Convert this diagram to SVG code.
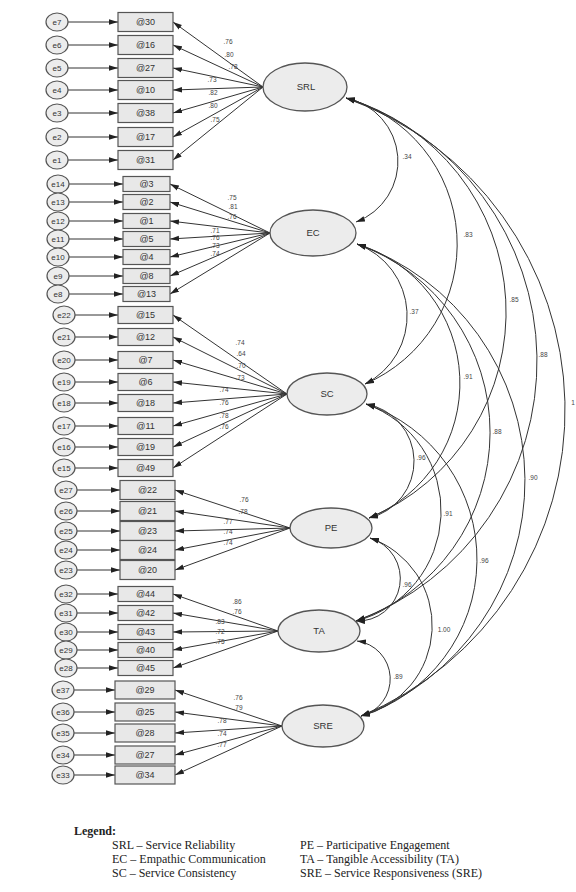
<svg xmlns="http://www.w3.org/2000/svg" width="576" height="892" viewBox="0 0 576 892">
<style>
text{font-family:"Liberation Sans",Arial,sans-serif;fill:#333;text-anchor:middle}
.err ellipse{fill:#ececec;stroke:#555;stroke-width:1.2}
.err text{font-size:8px}
.box rect{fill:#e8e8e8;stroke:#555;stroke-width:1.2}
.box text{font-size:9px}
.lat ellipse{fill:#ececec;stroke:#555;stroke-width:1.3}
.lat text{font-size:9.5px}
.conn path{stroke:#333;stroke-width:1;fill:none;marker-end:url(#ah)}
.conn path.cov{marker-start:url(#ah)}
.lbl text{font-size:6.5px;fill:#444}
.leg text{font-family:"Liberation Serif","Times New Roman",serif;font-size:12px;fill:#222;text-anchor:start}
</style>
<defs>
<marker id="ah" viewBox="0 0 10 6" refX="10" refY="3" markerWidth="9" markerHeight="6" markerUnits="userSpaceOnUse" orient="auto-start-reverse"><path d="M0,0 L10,3 L0,6 z" fill="#222"/></marker>
</defs>
<rect width="576" height="892" fill="#fff"/>

<g id="connectors" class="conn">
<!-- SRL errors & loadings -->
<path d="M68,22 H118"/><path d="M68,45 H118"/><path d="M68,68 H118"/><path d="M68,90 H118"/><path d="M68,113 H118"/><path d="M68,137 H118"/><path d="M68,160 H118"/>
<path d="M263,87 L173,22"/><path d="M263,87 L173,45"/><path d="M263,87 L173,68"/><path d="M263,87 L173,90"/><path d="M263,87 L173,113"/><path d="M263,87 L173,137"/><path d="M263,87 L173,160"/>
<!-- EC -->
<path d="M69,184 H123"/><path d="M69,202 H123"/><path d="M69,221 H123"/><path d="M69,239 H123"/><path d="M69,257 H123"/><path d="M69,276 H123"/><path d="M69,294 H123"/>
<path d="M270,233 L170,184"/><path d="M270,233 L170,202"/><path d="M270,233 L170,221"/><path d="M270,233 L170,239"/><path d="M270,233 L170,257"/><path d="M270,233 L170,276"/><path d="M270,233 L170,294"/>
<!-- SC -->
<path d="M75,315 H118"/><path d="M75,337 H118"/><path d="M75,360 H118"/><path d="M75,382 H118"/><path d="M75,403 H118"/><path d="M75,426 H118"/><path d="M75,447 H118"/><path d="M75,468 H118"/>
<path d="M287,394 L173,315"/><path d="M287,394 L173,337"/><path d="M287,394 L173,360"/><path d="M287,394 L173,382"/><path d="M287,394 L173,403"/><path d="M287,394 L173,426"/><path d="M287,394 L173,447"/><path d="M287,394 L173,468"/>
<!-- PE -->
<path d="M77,490 H120"/><path d="M77,511 H120"/><path d="M77,531 H120"/><path d="M77,550 H120"/><path d="M77,570 H120"/>
<path d="M290,528 L175,490"/><path d="M290,528 L175,511"/><path d="M290,528 L175,531"/><path d="M290,528 L175,550"/><path d="M290,528 L175,570"/>
<!-- TA -->
<path d="M77,594 H118"/><path d="M77,613 H118"/><path d="M77,632 H118"/><path d="M77,650 H118"/><path d="M77,668 H118"/>
<path d="M278,631 L173,594"/><path d="M278,631 L173,613"/><path d="M278,631 L173,632"/><path d="M278,631 L173,650"/><path d="M278,631 L173,668"/>
<!-- SRE -->
<path d="M74,690 H115"/><path d="M74,712 H115"/><path d="M74,733 H115"/><path d="M74,755 H115"/><path d="M74,775 H115"/>
<path d="M282,726 L175,690"/><path d="M282,726 L175,712"/><path d="M282,726 L175,733"/><path d="M282,726 L175,755"/><path d="M282,726 L175,775"/>
<!-- covariances -->
<path class="cov" d="M346,98 A64.7,64.7 0 0 1 356,222"/>
<path class="cov" d="M346,98 A151.9,151.9 0 0 1 365,384"/>
<path class="cov" d="M346,98 A223.2,223.2 0 0 1 369,518"/>
<path class="cov" d="M346,98 A276.9,276.9 0 0 1 356,621"/>
<path class="cov" d="M346,98 A331.6,331.6 0 0 1 361,716"/>
<path class="cov" d="M357,244 A76.4,76.4 0 0 1 365,384"/>
<path class="cov" d="M357,244 A145.5,145.5 0 0 1 369,518"/>
<path class="cov" d="M357,244 A199.8,199.8 0 0 1 356,621"/>
<path class="cov" d="M357,244 A250.8,250.8 0 0 1 361,716"/>
<path class="cov" d="M366,404 A58.2,58.2 0 0 1 369,518"/>
<path class="cov" d="M366,404 A113.7,113.7 0 0 1 356,621"/>
<path class="cov" d="M366,404 A164,164 0 0 1 361,716"/>
<path class="cov" d="M370,538 A42.4,42.4 0 0 1 356,621"/>
<path class="cov" d="M370,538 A92.9,92.9 0 0 1 361,716"/>
<path class="cov" d="M357,641 A38.2,38.2 0 0 1 361,716"/>
</g>

<g id="labels" class="lbl">
<text x="228" y="44">.76</text><text x="229" y="57">.80</text><text x="233" y="69">.78</text><text x="212" y="82">.73</text><text x="213" y="95">.82</text><text x="213" y="108">.80</text><text x="215" y="122">.75</text>
<text x="232" y="200">.75</text><text x="233" y="209">.81</text><text x="232" y="219">.76</text><text x="215" y="233">.71</text><text x="215" y="240">.76</text><text x="215" y="248">.73</text><text x="215" y="256">.74</text>
<text x="240" y="345">.74</text><text x="241" y="356">.64</text><text x="241" y="368">.70</text><text x="240" y="380">.73</text><text x="224" y="392">.74</text><text x="224" y="405">.76</text><text x="224" y="418">.78</text><text x="224" y="429">.76</text>
<text x="244" y="502">.76</text><text x="243" y="514">.78</text><text x="228" y="524">.77</text><text x="228" y="534">.74</text><text x="228" y="545">.74</text>
<text x="237" y="604">.86</text><text x="237" y="614">.76</text><text x="220" y="624">.83</text><text x="220" y="634">.72</text><text x="220" y="644">.75</text>
<text x="238" y="700">.76</text><text x="238" y="710">.79</text><text x="222" y="723">.78</text><text x="222" y="736">.74</text><text x="222" y="747">.77</text>
<text x="407" y="159">.34</text><text x="468" y="237">.83</text><text x="514" y="302">.85</text><text x="543" y="357">.88</text><text x="573" y="405">1</text>
<text x="414" y="314">.37</text><text x="468" y="379">.91</text><text x="497" y="434">.88</text><text x="533" y="480">.90</text>
<text x="421" y="460">.96</text><text x="448" y="516">.91</text><text x="484" y="563">.96</text>
<text x="407" y="587">.96</text><text x="444" y="632">1.00</text><text x="398" y="679">.89</text>
</g>

<g id="SRL" class="lat"><ellipse cx="305" cy="87" rx="42" ry="24"/><text x="306" y="90">SRL</text></g>
<g id="EC" class="lat"><ellipse cx="313" cy="233" rx="43" ry="23"/><text x="313" y="236">EC</text></g>
<g id="SC" class="lat"><ellipse cx="327" cy="394" rx="40" ry="21"/><text x="327" y="397">SC</text></g>
<g id="PE" class="lat"><ellipse cx="331" cy="528" rx="41" ry="20"/><text x="331" y="531">PE</text></g>
<g id="TA" class="lat"><ellipse cx="319" cy="631" rx="41" ry="21"/><text x="319" y="634">TA</text></g>
<g id="SRE" class="lat"><ellipse cx="323" cy="726" rx="41" ry="21"/><text x="323" y="729">SRE</text></g>

<g id="e7" class="err"><ellipse cx="57" cy="22" rx="11" ry="9"/><text x="57" y="25">e7</text></g>
<g id="e6" class="err"><ellipse cx="57" cy="45" rx="11" ry="9"/><text x="57" y="48">e6</text></g>
<g id="e5" class="err"><ellipse cx="57" cy="68" rx="11" ry="9"/><text x="57" y="71">e5</text></g>
<g id="e4" class="err"><ellipse cx="57" cy="90" rx="11" ry="9"/><text x="57" y="93">e4</text></g>
<g id="e3" class="err"><ellipse cx="57" cy="113" rx="11" ry="9"/><text x="57" y="116">e3</text></g>
<g id="e2" class="err"><ellipse cx="57" cy="137" rx="11" ry="9"/><text x="57" y="140">e2</text></g>
<g id="e1" class="err"><ellipse cx="57" cy="160" rx="11" ry="9"/><text x="57" y="163">e1</text></g>
<g id="q30" class="box"><rect x="118" y="12.5" width="55" height="19"/><text x="145.5" y="25">@30</text></g>
<g id="q16" class="box"><rect x="118" y="35.5" width="55" height="19"/><text x="145.5" y="48">@16</text></g>
<g id="q27a" class="box"><rect x="118" y="58.5" width="55" height="19"/><text x="145.5" y="71">@27</text></g>
<g id="q10" class="box"><rect x="118" y="80.5" width="55" height="19"/><text x="145.5" y="93">@10</text></g>
<g id="q38" class="box"><rect x="118" y="103.5" width="55" height="19"/><text x="145.5" y="116">@38</text></g>
<g id="q17" class="box"><rect x="118" y="127.5" width="55" height="19"/><text x="145.5" y="140">@17</text></g>
<g id="q31" class="box"><rect x="118" y="150.5" width="55" height="19"/><text x="145.5" y="163">@31</text></g>

<g id="e14" class="err"><ellipse cx="58" cy="184" rx="11" ry="9"/><text x="58" y="187">e14</text></g>
<g id="e13" class="err"><ellipse cx="58" cy="202" rx="11" ry="9"/><text x="58" y="205">e13</text></g>
<g id="e12" class="err"><ellipse cx="58" cy="221" rx="11" ry="9"/><text x="58" y="224">e12</text></g>
<g id="e11" class="err"><ellipse cx="58" cy="239" rx="11" ry="9"/><text x="58" y="242">e11</text></g>
<g id="e10" class="err"><ellipse cx="58" cy="257" rx="11" ry="9"/><text x="58" y="260">e10</text></g>
<g id="e9" class="err"><ellipse cx="58" cy="276" rx="11" ry="9"/><text x="58" y="279">e9</text></g>
<g id="e8" class="err"><ellipse cx="58" cy="294" rx="11" ry="9"/><text x="58" y="297">e8</text></g>
<g id="q3" class="box"><rect x="123" y="176.5" width="47" height="15"/><text x="146.5" y="187">@3</text></g>
<g id="q2" class="box"><rect x="123" y="194.5" width="47" height="15"/><text x="146.5" y="205">@2</text></g>
<g id="q1" class="box"><rect x="123" y="213.5" width="47" height="15"/><text x="146.5" y="224">@1</text></g>
<g id="q5" class="box"><rect x="123" y="231.5" width="47" height="15"/><text x="146.5" y="242">@5</text></g>
<g id="q4" class="box"><rect x="123" y="249.5" width="47" height="15"/><text x="146.5" y="260">@4</text></g>
<g id="q8" class="box"><rect x="123" y="268.5" width="47" height="15"/><text x="146.5" y="279">@8</text></g>
<g id="q13" class="box"><rect x="123" y="286.5" width="47" height="15"/><text x="146.5" y="297">@13</text></g>

<g id="e22" class="err"><ellipse cx="64" cy="315" rx="11" ry="9"/><text x="64" y="318">e22</text></g>
<g id="e21" class="err"><ellipse cx="64" cy="337" rx="11" ry="9"/><text x="64" y="340">e21</text></g>
<g id="e20" class="err"><ellipse cx="64" cy="360" rx="11" ry="9"/><text x="64" y="363">e20</text></g>
<g id="e19" class="err"><ellipse cx="64" cy="382" rx="11" ry="9"/><text x="64" y="385">e19</text></g>
<g id="e18" class="err"><ellipse cx="64" cy="403" rx="11" ry="9"/><text x="64" y="406">e18</text></g>
<g id="e17" class="err"><ellipse cx="64" cy="426" rx="11" ry="9"/><text x="64" y="429">e17</text></g>
<g id="e16" class="err"><ellipse cx="64" cy="447" rx="11" ry="9"/><text x="64" y="450">e16</text></g>
<g id="e15" class="err"><ellipse cx="64" cy="468" rx="11" ry="9"/><text x="64" y="471">e15</text></g>
<g id="q15" class="box"><rect x="118" y="306.5" width="55" height="17"/><text x="145.5" y="318">@15</text></g>
<g id="q12" class="box"><rect x="118" y="328.5" width="55" height="17"/><text x="145.5" y="340">@12</text></g>
<g id="q7" class="box"><rect x="118" y="351.5" width="55" height="17"/><text x="145.5" y="363">@7</text></g>
<g id="q6" class="box"><rect x="118" y="373.5" width="55" height="17"/><text x="145.5" y="385">@6</text></g>
<g id="q18" class="box"><rect x="118" y="394.5" width="55" height="17"/><text x="145.5" y="406">@18</text></g>
<g id="q11" class="box"><rect x="118" y="417.5" width="55" height="17"/><text x="145.5" y="429">@11</text></g>
<g id="q19" class="box"><rect x="118" y="438.5" width="55" height="17"/><text x="145.5" y="450">@19</text></g>
<g id="q49" class="box"><rect x="118" y="459.5" width="55" height="17"/><text x="145.5" y="471">@49</text></g>

<g id="e27" class="err"><ellipse cx="66" cy="490" rx="11" ry="9"/><text x="66" y="493">e27</text></g>
<g id="e26" class="err"><ellipse cx="66" cy="511" rx="11" ry="9"/><text x="66" y="514">e26</text></g>
<g id="e25" class="err"><ellipse cx="66" cy="531" rx="11" ry="9"/><text x="66" y="534">e25</text></g>
<g id="e24" class="err"><ellipse cx="66" cy="550" rx="11" ry="9"/><text x="66" y="553">e24</text></g>
<g id="e23" class="err"><ellipse cx="66" cy="570" rx="11" ry="9"/><text x="66" y="573">e23</text></g>
<g id="q22" class="box"><rect x="120" y="480.5" width="55" height="19"/><text x="147.5" y="493">@22</text></g>
<g id="q21" class="box"><rect x="120" y="501.5" width="55" height="19"/><text x="147.5" y="514">@21</text></g>
<g id="q23" class="box"><rect x="120" y="521.5" width="55" height="19"/><text x="147.5" y="534">@23</text></g>
<g id="q24" class="box"><rect x="120" y="540.5" width="55" height="19"/><text x="147.5" y="553">@24</text></g>
<g id="q20" class="box"><rect x="120" y="560.5" width="55" height="19"/><text x="147.5" y="573">@20</text></g>

<g id="e32" class="err"><ellipse cx="66" cy="594" rx="11" ry="9"/><text x="66" y="597">e32</text></g>
<g id="e31" class="err"><ellipse cx="66" cy="613" rx="11" ry="9"/><text x="66" y="616">e31</text></g>
<g id="e30" class="err"><ellipse cx="66" cy="632" rx="11" ry="9"/><text x="66" y="635">e30</text></g>
<g id="e29" class="err"><ellipse cx="66" cy="650" rx="11" ry="9"/><text x="66" y="653">e29</text></g>
<g id="e28" class="err"><ellipse cx="66" cy="668" rx="11" ry="9"/><text x="66" y="671">e28</text></g>
<g id="q44" class="box"><rect x="118" y="586.5" width="55" height="15"/><text x="145.5" y="597">@44</text></g>
<g id="q42" class="box"><rect x="118" y="605.5" width="55" height="15"/><text x="145.5" y="616">@42</text></g>
<g id="q43" class="box"><rect x="118" y="624.5" width="55" height="15"/><text x="145.5" y="635">@43</text></g>
<g id="q40" class="box"><rect x="118" y="642.5" width="55" height="15"/><text x="145.5" y="653">@40</text></g>
<g id="q45" class="box"><rect x="118" y="660.5" width="55" height="15"/><text x="145.5" y="671">@45</text></g>

<g id="e37" class="err"><ellipse cx="63" cy="690" rx="11" ry="9"/><text x="63" y="693">e37</text></g>
<g id="e36" class="err"><ellipse cx="63" cy="712" rx="11" ry="9"/><text x="63" y="715">e36</text></g>
<g id="e35" class="err"><ellipse cx="63" cy="733" rx="11" ry="9"/><text x="63" y="736">e35</text></g>
<g id="e34" class="err"><ellipse cx="63" cy="755" rx="11" ry="9"/><text x="63" y="758">e34</text></g>
<g id="e33" class="err"><ellipse cx="63" cy="775" rx="11" ry="9"/><text x="63" y="778">e33</text></g>
<g id="q29" class="box"><rect x="115" y="681" width="60" height="18"/><text x="145" y="693">@29</text></g>
<g id="q25" class="box"><rect x="115" y="703" width="60" height="18"/><text x="145" y="715">@25</text></g>
<g id="q28" class="box"><rect x="115" y="724" width="60" height="18"/><text x="145" y="736">@28</text></g>
<g id="q27b" class="box"><rect x="115" y="746" width="60" height="18"/><text x="145" y="758">@27</text></g>
<g id="q34" class="box"><rect x="115" y="766" width="60" height="18"/><text x="145" y="778">@34</text></g>

<g id="legend" class="leg">
<text x="74" y="835" font-weight="bold">Legend:</text>
<text x="112" y="849">SRL – Service Reliability</text>
<text x="112" y="863">EC – Empathic Communication</text>
<text x="112" y="877">SC – Service Consistency</text>
<text x="300" y="849">PE – Participative Engagement</text>
<text x="300" y="863">TA – Tangible Accessibility (TA)</text>
<text x="300" y="877">SRE – Service Responsiveness (SRE)</text>
</g>
</svg>
